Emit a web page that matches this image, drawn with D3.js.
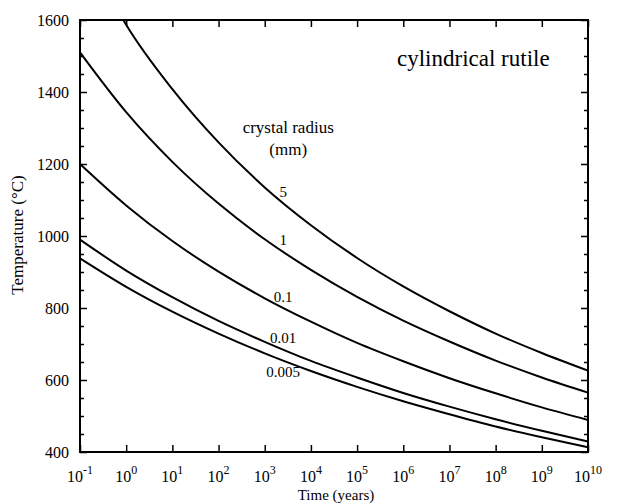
<!DOCTYPE html>
<html>
<head>
<meta charset="utf-8">
<script src="https://cdn.jsdelivr.net/npm/d3@7"></script>
<style>
  body { margin: 0; background: #fff; }
  text { font-family: "Liberation Serif", "Times New Roman", serif; fill: #000; }
  .curve { fill: none; stroke: #000; stroke-width: 2; }
  .tick line { stroke: #000; stroke-width: 1.5; }
  .domain { display: none; }
</style>
</head>
<body>
<svg class="chart"></svg>
<script>
// decade times (years) and their exponents for the tick labels
var times = [1e-1, 1e0, 1e1, 1e2, 1e3, 1e4, 1e5, 1e6, 1e7, 1e8, 1e9, 1e10];
var timeExponents = ["-1", "0", "1", "2", "3", "4", "5", "6", "7", "8", "9", "10"];
var tempTicks = [400, 600, 800, 1000, 1200, 1400, 1600];

// crystal radius (mm) of each curve
var radii = ["5", "1", "0.1", "0.01", "0.005"];

// temperature (C) read at each decade; the 5 mm curve enters at the top edge
var times5 = [0.87, 1e0, 1e1, 1e2, 1e3, 1e4, 1e5, 1e6, 1e7, 1e8, 1e9, 1e10];
var temps5 = [1600, 1587, 1408, 1260, 1135, 1030, 939, 860, 791, 729, 675, 626];
var temps1 = [1510, 1344, 1206, 1090, 991, 906, 831, 765, 707, 654, 607, 565];
var temps01 = [1200, 1085, 986, 901, 827, 762, 703, 652, 605, 563, 524, 489];
var temps001 = [990, 904, 830, 764, 706, 653, 607, 564, 526, 491, 459, 429];
var temps0005 = [938, 859, 790, 729, 674, 625, 581, 541, 505, 471, 441, 413];

var margin = {top: 20, right: 29, bottom: 52, left: 80},
    width = 617 - margin.left - margin.right,
    height = 504 - margin.top - margin.bottom;

var x = d3.scaleLog()
    .domain([1e-1, 1e10])
    .range([0, width]);

var y = d3.scaleLinear()
    .domain([400, 1600])
    .range([height, 0]);

var svg = d3.select(".chart")
    .attr("width", 617)
    .attr("height", 504)
  .append("g")
    .attr("transform", "translate(" + margin.left + "," + margin.top + ")");

var minorTemps = d3.range(450, 1600, 50).filter(function(d) { return d % 200 !== 0; });

// left and right axes, ticks pointing in
svg.append("g")
    .call(d3.axisLeft(y).tickValues(tempTicks).tickSize(-7).tickPadding(11).tickFormat(d3.format("d")))
    .selectAll("text")
      .style("font-size", "16px");

svg.append("g")
    .call(d3.axisLeft(y).tickValues(minorTemps).tickSize(-4).tickFormat(""));

svg.append("g")
    .attr("transform", "translate(" + width + ",0)")
    .call(d3.axisRight(y).tickValues(tempTicks).tickSize(-7).tickFormat(""));

svg.append("g")
    .attr("transform", "translate(" + width + ",0)")
    .call(d3.axisRight(y).tickValues(minorTemps).tickSize(-4).tickFormat(""));

// bottom and top axes
svg.append("g")
    .attr("transform", "translate(0," + height + ")")
    .call(d3.axisBottom(x).tickValues(times).tickSize(-7).tickFormat(""));

svg.append("g")
    .call(d3.axisTop(x).tickValues(times).tickSize(-7).tickFormat(""));

var xLabels = svg.append("g")
  .selectAll("text")
    .data(times)
  .enter().append("text")
    .attr("x", function(d) { return x(d); })
    .attr("y", height + 30)
    .attr("text-anchor", "middle")
    .style("font-size", "16px");

xLabels.append("tspan").text("10");
xLabels.append("tspan")
    .attr("dy", "-8")
    .style("font-size", "12px")
    .text(function(d, i) { return timeExponents[i]; });

// frame
svg.append("rect")
    .attr("width", width)
    .attr("height", height)
    .attr("fill", "none")
    .attr("stroke", "#000")
    .attr("stroke-width", 2);

svg.append("text")
    .attr("x", width / 2 + 2)
    .attr("y", height + 48)
    .attr("text-anchor", "middle")
    .style("font-size", "15px")
    .text("Time (years)");

svg.append("text")
    .attr("transform", "translate(-57," + (height / 2 - 1) + ") rotate(-90)")
    .attr("text-anchor", "middle")
    .style("font-size", "17px")
    .text("Temperature (\u00B0C)");

// curves
var series = [
  {radius: radii[0], t: times5, T: temps5},
  {radius: radii[1], t: times, T: temps1},
  {radius: radii[2], t: times, T: temps01},
  {radius: radii[3], t: times, T: temps001},
  {radius: radii[4], t: times, T: temps0005}
];

var line = d3.line()
    .x(function(d) { return x(d[0]); })
    .y(function(d) { return y(d[1]); })
    .curve(d3.curveMonotoneX);

svg.selectAll(".curve")
    .data(series)
  .enter().append("path")
    .attr("class", "curve")
    .attr("d", function(s) { return line(d3.zip(s.t, s.T)); });

// value of a curve at time t, interpolated on log time
function tempAt(s, t) {
  var lt = Math.log10(t);
  for (var i = 1; i < s.t.length; i++) {
    var a = Math.log10(s.t[i - 1]), b = Math.log10(s.t[i]);
    if (lt <= b) return s.T[i - 1] + (s.T[i] - s.T[i - 1]) * (lt - a) / (b - a);
  }
  return s.T[s.T.length - 1];
}

var labelTime = Math.pow(10, 3.4);

svg.selectAll(".radius")
    .data(series)
  .enter().append("text")
    .attr("class", "radius")
    .attr("x", x(labelTime))
    .attr("y", function(s, i) { return y(tempAt(s, labelTime)) + (i === 4 ? 17 : -6); })
    .attr("text-anchor", "middle")
    .style("font-size", "15px")
    .text(function(s) { return s.radius; });

svg.append("text")
    .attr("x", x(labelTime) + 5)
    .attr("y", 113)
    .attr("text-anchor", "middle")
    .style("font-size", "17px")
    .text("crystal radius");

svg.append("text")
    .attr("x", x(labelTime) + 5)
    .attr("y", 135)
    .attr("text-anchor", "middle")
    .style("font-size", "17px")
    .text("(mm)");

svg.append("text")
    .attr("x", 317)
    .attr("y", 46)
    .style("font-size", "23px")
    .text("cylindrical rutile");
</script>
</body>
</html>
